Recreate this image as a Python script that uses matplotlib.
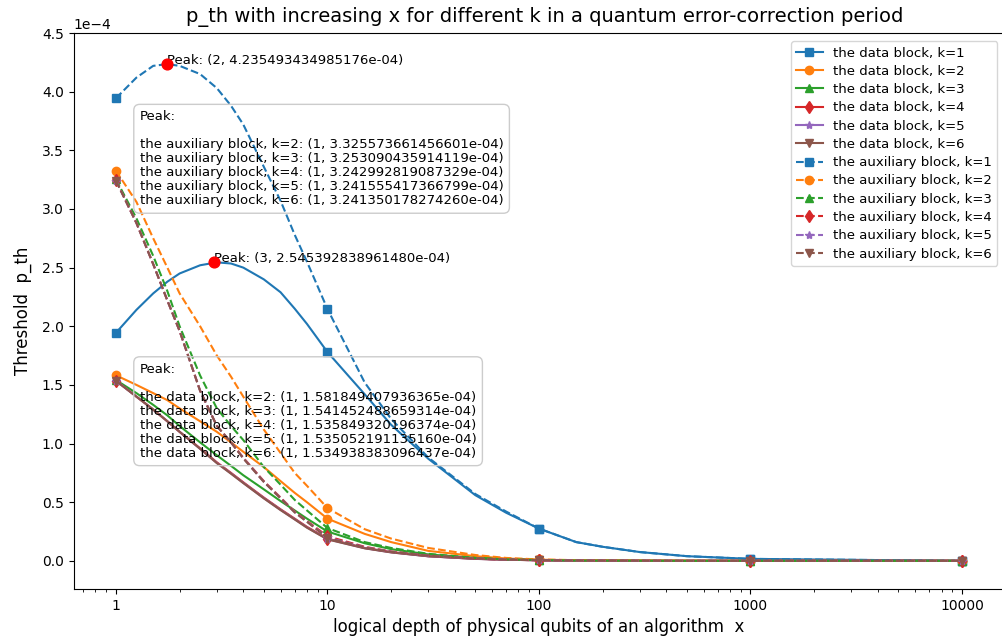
import matplotlib

matplotlib.use("Agg")
import numpy as np
import matplotlib.pyplot as plt
from matplotlib.ticker import FixedLocator, FixedFormatter, MultipleLocator

# logical depth x, sampled along the curves (markers only at the decades)
x_vals = [1, 1.25, 1.5, 1.75, 2, 2.5, 3, 3.5, 4, 5, 6, 7, 8, 10, 15, 20, 30, 50, 70,
          100, 150, 200, 300, 500, 1000, 10000]
x_ticks = [1, 10, 100, 1000, 10000]

# threshold p_th, in units of 1e-4
data_k1 = [1.944, 2.14, 2.28, 2.38, 2.45, 2.52, 2.545, 2.535, 2.50, 2.40, 2.29, 2.15, 2.02,
           1.78, 1.42, 1.16, 0.87, 0.56, 0.41, 0.275, 0.16, 0.12, 0.075, 0.04, 0.017, 0.0]
data_k2 = [1.582, 1.50, 1.43, 1.37, 1.30, 1.19, 1.10, 1.01, 0.93, 0.80, 0.68, 0.58, 0.50,
           0.36, 0.23, 0.16, 0.085, 0.04, 0.02, 0.01, 0.005, 0.003, 0.002, 0.001, 0.0, 0.0]
data_k3 = [1.5415, 1.43, 1.33, 1.24, 1.15, 1.01, 0.90, 0.81, 0.73, 0.61, 0.51, 0.43, 0.36,
           0.25, 0.15, 0.10, 0.055, 0.025, 0.013, 0.007, 0.003, 0.002, 0.001, 0.0, 0.0, 0.0]
data_k4 = [1.5358, 1.40, 1.29, 1.19, 1.10, 0.96, 0.84, 0.75, 0.67, 0.54, 0.44, 0.36, 0.29,
           0.19, 0.11, 0.075, 0.04, 0.018, 0.01, 0.005, 0.002, 0.001, 0.0, 0.0, 0.0, 0.0]
data_k5 = [1.5351, 1.40, 1.29, 1.19, 1.10, 0.955, 0.835, 0.745, 0.665, 0.535, 0.435, 0.355,
           0.285, 0.185, 0.108, 0.073, 0.039, 0.017, 0.01, 0.005, 0.002, 0.001, 0.0, 0.0,
           0.0, 0.0]
data_k6 = [1.5349, 1.40, 1.29, 1.19, 1.10, 0.955, 0.833, 0.743, 0.663, 0.533, 0.433, 0.353,
           0.283, 0.183, 0.107, 0.072, 0.039, 0.017, 0.01, 0.005, 0.002, 0.001, 0.0, 0.0,
           0.0, 0.0]

aux_k1 = [3.944, 4.12, 4.22, 4.235, 4.22, 4.15, 4.03, 3.88, 3.72, 3.36, 3.07, 2.78, 2.55,
          2.147, 1.52, 1.21, 0.88, 0.57, 0.42, 0.275, 0.16, 0.12, 0.075, 0.04, 0.017, 0.0]
aux_k2 = [3.326, 3.06, 2.75, 2.50, 2.28, 2.00, 1.75, 1.57, 1.40, 1.12, 0.92, 0.75, 0.64,
          0.45, 0.27, 0.19, 0.11, 0.05, 0.025, 0.012, 0.006, 0.004, 0.002, 0.001, 0.0, 0.0]
aux_k3 = [3.253, 2.92, 2.60, 2.30, 2.00, 1.58, 1.30, 1.15, 1.03, 0.80, 0.65, 0.52, 0.43,
          0.28, 0.16, 0.11, 0.06, 0.025, 0.013, 0.007, 0.003, 0.002, 0.001, 0.0, 0.0, 0.0]
aux_k4 = [3.243, 2.88, 2.53, 2.22, 1.96, 1.45, 1.15, 1.01, 0.88, 0.68, 0.54, 0.42, 0.34,
          0.21, 0.12, 0.08, 0.045, 0.02, 0.01, 0.006, 0.003, 0.002, 0.001, 0.0, 0.0, 0.0]
aux_k5 = [3.2416, 2.88, 2.53, 2.22, 1.96, 1.45, 1.15, 1.01, 0.875, 0.675, 0.535, 0.415, 0.335,
          0.20, 0.115, 0.078, 0.044, 0.02, 0.01, 0.006, 0.003, 0.002, 0.001, 0.0, 0.0, 0.0]
aux_k6 = [3.2414, 2.88, 2.53, 2.22, 1.96, 1.45, 1.15, 1.01, 0.873, 0.673, 0.533, 0.413, 0.333,
          0.195, 0.113, 0.077, 0.044, 0.02, 0.01, 0.006, 0.003, 0.002, 0.001, 0.0, 0.0, 0.0]

data_series = [data_k1, data_k2, data_k3, data_k4, data_k5, data_k6]
aux_series = [aux_k1, aux_k2, aux_k3, aux_k4, aux_k5, aux_k6]
markers = ["s", "o", "^", "d", "*", "v"]

# red peak dots of the k=1 curves
peak_x = [1.74, 2.9]
peak_y = [4.235493434985176e-04, 2.545392838961480e-04]
peak_labels = ["Peak: (2, 4.235493434985176e-04)", "Peak: (3, 2.545392838961480e-04)"]

aux_peak_text = ("Peak:\n\n"
                 "the auxiliary block, k=2: (1, 3.325573661456601e-04)\n"
                 "the auxiliary block, k=3: (1, 3.253090435914119e-04)\n"
                 "the auxiliary block, k=4: (1, 3.242992819087329e-04)\n"
                 "the auxiliary block, k=5: (1, 3.241555417366799e-04)\n"
                 "the auxiliary block, k=6: (1, 3.241350178274260e-04)")
data_peak_text = ("Peak:\n\n"
                  "the data block, k=2: (1, 1.581849407936365e-04)\n"
                  "the data block, k=3: (1, 1.541452488659314e-04)\n"
                  "the data block, k=4: (1, 1.535849320196374e-04)\n"
                  "the data block, k=5: (1, 1.535052191135160e-04)\n"
                  "the data block, k=6: (1, 1.534938383096437e-04)")

fig = plt.figure(figsize=(10.02, 6.41), dpi=100)
ax = fig.add_axes([0.0735, 0.0811, 0.9288, 0.8674])

x = np.array(x_vals)
mark_idx = [x_vals.index(v) for v in x_ticks]
for k, ys in enumerate(data_series, start=1):
    ax.plot(x, np.array(ys) * 1e-4, color=f"C{k-1}", marker=markers[k - 1],
            markevery=mark_idx, label=f"the data block, k={k}")
for k, ys in enumerate(aux_series, start=1):
    ax.plot(x, np.array(ys) * 1e-4, color=f"C{k-1}", marker=markers[k - 1],
            markevery=mark_idx, linestyle="--", label=f"the auxiliary block, k={k}")

ax.scatter(peak_x, peak_y, color="red", s=60, zorder=5)
for px, py, txt in zip(peak_x, peak_y, peak_labels):
    ax.text(px, py, txt, fontsize=9.5)

box = dict(boxstyle="round,pad=0.45", facecolor="none", edgecolor="#cccccc")
ax.text(0.071, 0.861, aux_peak_text, transform=ax.transAxes, fontsize=9.5,
        va="top", linespacing=1.1, bbox=box)
ax.text(0.071, 0.407, data_peak_text, transform=ax.transAxes, fontsize=9.5,
        va="top", linespacing=1.1, bbox=box)

ax.set_xscale("log")
ax.set_xlim(10 ** -0.2, 10 ** 4.2)
ax.set_ylim(-0.24e-4, 4.5e-4)
ax.xaxis.set_major_locator(FixedLocator(x_ticks))
ax.xaxis.set_major_formatter(FixedFormatter([str(v) for v in x_ticks]))
ax.yaxis.set_major_locator(MultipleLocator(0.5e-4))
ax.ticklabel_format(axis="y", style="sci", scilimits=(0, 0))

ax.set_title("p_th with increasing x for different k in a quantum error-correction period",
             fontsize=14, x=0.506, pad=8)
ax.set_xlabel("logical depth of physical qubits of an algorithm  x", fontsize=12)
ax.set_ylabel("Threshold  p_th", fontsize=12, labelpad=7)
ax.legend(loc="upper right", fontsize=9.5, labelspacing=0.4,
          bbox_to_anchor=(0.9995, 0.997))

fig.savefig("out.png", dpi=100)
